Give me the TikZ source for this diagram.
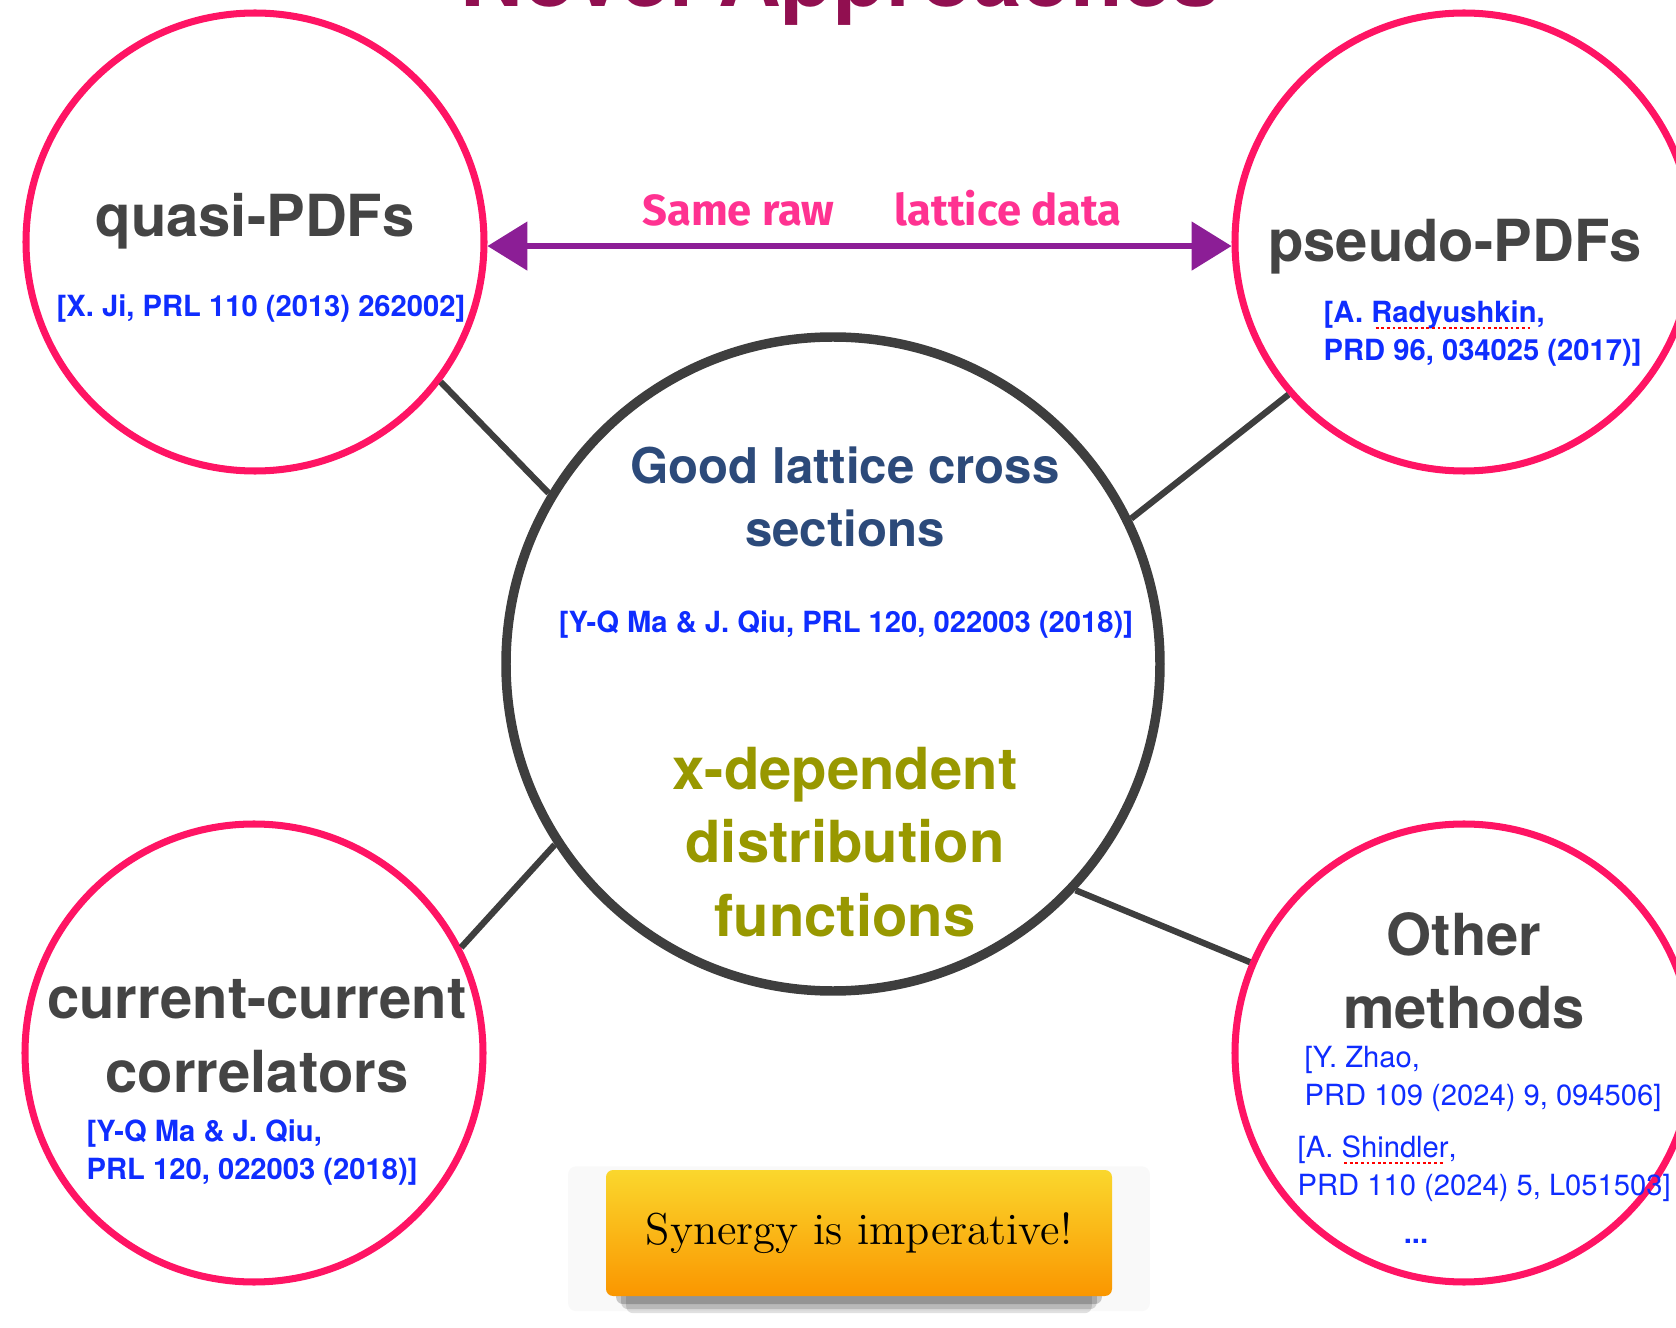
\documentclass[tikz,border=0pt]{standalone}
\usepackage{fontspec}
\usetikzlibrary{arrows.meta,shadows}
\newfontfamily\heros{TeX Gyre Heros}
\newfontfamily\handfont{Fira Sans}
\definecolor{ring_pink}{RGB}{255,20,100}
\definecolor{ring_gray}{RGB}{62,62,62}
\definecolor{label_gray}{RGB}{68,68,68}
\definecolor{ref_blue}{RGB}{15,45,255}
\definecolor{head_blue}{RGB}{44,74,122}
\definecolor{head_olive}{RGB}{152,152,0}
\definecolor{arrow_purple}{RGB}{140,30,150}
\definecolor{note_pink}{RGB}{255,50,145}
\definecolor{title_red}{RGB}{145,15,80}
\definecolor{box_yellow}{RGB}{250,215,45}
\definecolor{box_orange}{RGB}{250,150,0}
\newlength\spellwd
\newcommand\spellmark[1]{\settowidth{\spellwd}{#1}\rlap{#1}\textcolor{red}{\leaders\hbox to 1.6pt{\hss\rule[-2pt]{0.8pt}{0.6pt}\hss}\hskip\spellwd}}

\begin{document}
\begin{tikzpicture}
    \tikzstyle{ring}=[draw=ring_pink, circle, line width=2pt, minimum size=4.58cm, inner sep=0pt]
    \tikzstyle{core}=[draw=ring_gray, circle, line width=2.7pt, minimum size=6.54cm, inner sep=0pt]
    \tikzstyle{link}=[draw=ring_gray, line width=1.8pt]
    \tikzstyle{big}=[text=label_gray, font=\heros\bfseries\fontsize{16.5}{20.8}\selectfont, align=center, anchor=base, inner sep=0pt]
    \tikzstyle{cite}=[text=ref_blue, font=\heros\bfseries\fontsize{8.3}{10.8}\selectfont, align=left, anchor=base west, inner sep=0pt]

    \useasboundingbox (0,0) rectangle (16.76,-13.28);

    \node[text=title_red, font=\heros\bfseries\fontsize{24.7}{30}\selectfont, anchor=base, inner sep=0pt] (title) at (8.40,-0.07) {Novel Approaches};

    \node[ring] (quasi)   at (2.55,-2.42)  {};
    \node[ring] (pseudo)  at (14.64,-2.42) {};
    \node[ring] (current) at (2.54,-10.53) {};
    \node[ring] (other)   at (14.64,-10.53) {};
    \node[core] (core)    at (8.33,-6.64)  {};

    \node[big] (quasi_txt)   at (2.55,-2.37)  {quasi-PDFs};
    \node[cite, anchor=base, align=center] (quasi_ref) at (2.61,-3.17) {[X. Ji, PRL 110 (2013) 262002]};
    \node[big] (pseudo_txt)  at (14.55,-2.62) {pseudo-PDFs};
    \node[cite] (pseudo_ref) at (13.23,-3.60) {[A. \spellmark{Radyushkin},\\PRD 96, 034025 (2017)]};

    \node[big, text=head_blue, font=\heros\bfseries\fontsize{14}{18.2}\selectfont] (core_txt) at (8.45,-5.47) {Good lattice cross\\sections};
    \node[cite, anchor=base, align=center] (core_ref) at (8.46,-6.33) {[Y-Q Ma \& J. Qiu, PRL 120, 022003 (2018)]};
    \node[big, text=head_olive, font=\heros\bfseries\fontsize{16.5}{20.9}\selectfont] (xdep_txt) at (8.45,-9.36) {x-dependent\\distribution\\functions};

    \node[big] (current_txt) at (2.57,-10.92) {current-current\\correlators};
    \node[cite] (current_ref) at (0.86,-11.79) {[Y-Q Ma \& J. Qiu,\\PRL 120, 022003 (2018)]};

    \node[big] (other_txt) at (14.64,-10.29) {Other\\methods};
    \node[cite, font=\heros\fontsize{8.3}{10.8}\selectfont] (zhao_ref) at (13.04,-11.05) {[Y. Zhao,\\PRD 109 (2024) 9, 094506]};
    \node[cite, font=\heros\fontsize{8.3}{10.8}\selectfont] (shindler_ref) at (12.97,-11.95) {[A. \spellmark{Shindler},\\PRD 110 (2024) 5, L051503]};
    \node[cite, anchor=base] (more_ref) at (14.16,-12.43) {...};

    \node[text=note_pink, font=\handfont\bfseries\fontsize{12.4}{15}\selectfont, anchor=base, inner sep=0pt] (note) at (8.82,-2.26) {Same raw\hspace{0.6cm}lattice data};

    \node[minimum width=5.06cm, minimum height=1.26cm, rounded corners=2pt,
          top color=box_yellow, bottom color=box_orange,
          general shadow={fill=black!2.5, shadow scale=1.15, shadow yshift=-0.05cm},
          drop shadow={shadow xshift=0pt, shadow yshift=-0.24cm, shadow scale=0.92, opacity=0.12, fill=black},
          drop shadow={shadow xshift=0pt, shadow yshift=-0.18cm, shadow scale=0.94, opacity=0.15, fill=black},
          drop shadow={shadow xshift=0pt, shadow yshift=-0.11cm, shadow scale=0.96, opacity=0.2, fill=black},
          font=\fontsize{12.7}{15}\selectfont] (synergy) at (8.59,-12.33) {Synergy is imperative!};

    \draw[arrow_purple, line width=1.5pt, {Triangle[length=0.4cm,width=0.48cm]}-{Triangle[length=0.4cm,width=0.48cm]}]
      (quasi.-1.5) -- (pseudo.181.5);

    \path
     (quasi.-37)  edge[link] (core.149)
     (pseudo.221) edge[link] (core.26)
     (current.27) edge[link] (core.213)
     (other.157)  edge[link] (core.-43)
     ;
\end{tikzpicture}
\end{document}
